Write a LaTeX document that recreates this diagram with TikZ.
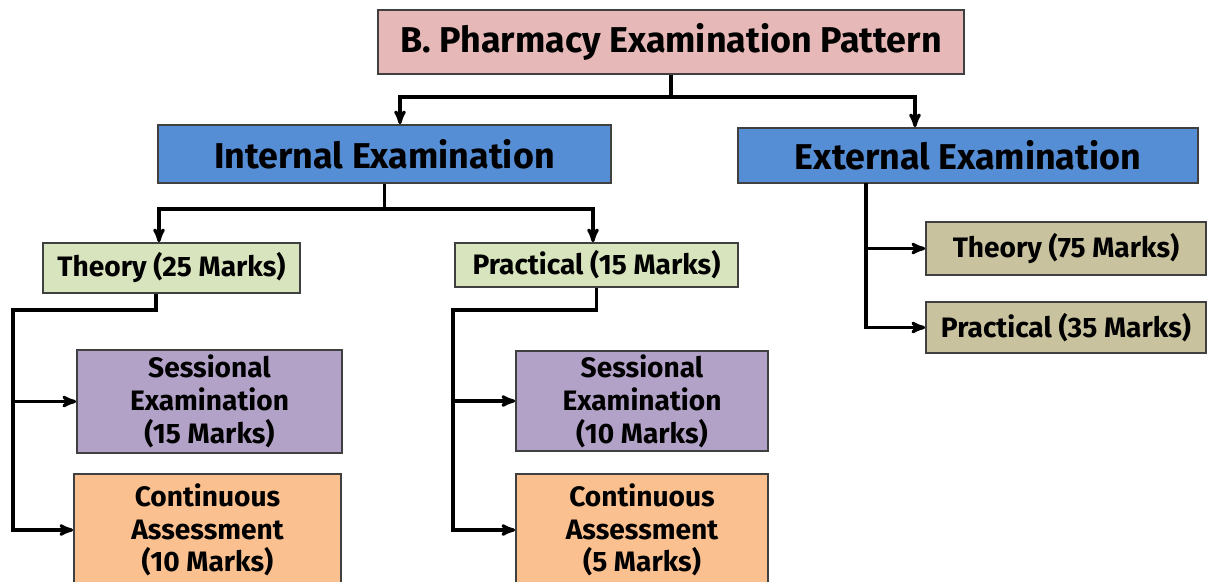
\documentclass[tikz,border=0pt]{standalone}
\usepackage{fontspec}
\setmainfont{Fira Sans}
\usepackage{tikz}
\usetikzlibrary{arrows}

\definecolor{titlepink}{HTML}{E6B9B8}
\definecolor{examblue}{HTML}{558ED5}
\definecolor{partgreen}{HTML}{D7E4BD}
\definecolor{exttan}{HTML}{C9C29E}
\definecolor{sesspurple}{HTML}{B3A2C7}
\definecolor{contorange}{HTML}{FAC090}

\begin{document}
\begin{tikzpicture}[x=0.025cm,y=-0.025cm,->,>=stealth',line width=2.2pt,
exam box/.style={rectangle,draw=black!75,line width=1.2pt,inner sep=0pt,align=center,font=\bfseries},
title box/.style={exam box,fill=titlepink,font=\bfseries\fontsize{25.5}{30}\selectfont},
main box/.style={exam box,fill=examblue,font=\bfseries\fontsize{25.5}{30}\selectfont},
part box/.style={exam box,fill=partgreen,font=\bfseries\fontsize{20}{24}\selectfont},
ext box/.style={exam box,fill=exttan,minimum width=7cm,font=\bfseries\fontsize{20}{24}\selectfont},
sess box/.style={exam box,fill=sesspurple,font=\bfseries\fontsize{20}{23.5}\selectfont},
cont box/.style={exam box,fill=contorange,font=\bfseries\fontsize{20}{23}\selectfont}]

\useasboundingbox (0,0) rectangle (1213,581);

\node[title box,minimum width=14.65cm,minimum height=1.6cm] (title) at (671,42) {B. Pharmacy Examination Pattern};

\node[main box,minimum width=11.325cm,minimum height=1.45cm] (intern) at (384.5,154) {Internal Examination};
\node[main box,minimum width=11.5cm,minimum height=1.375cm] (extern) at (968,155.5) {External Examination};

\node[part box,minimum width=6.425cm,minimum height=1.25cm] (theoryI) at (171.5,268) {Theory (25 Marks)};
\node[part box,minimum width=7.075cm,minimum height=1.1cm] (practI) at (596.5,265) {Practical (15 Marks)};

\node[ext box,minimum height=1.325cm] (theoryE) at (1066,248.5) {Theory (75 Marks)};
\node[ext box,minimum height=1.275cm] (practE) at (1066,327.5) {Practical (35 Marks)};

\node[sess box,minimum width=6.625cm,minimum height=2.575cm] (sessT) at (209.5,401.5) {Sessional\\Examination\\(15 Marks)};
\node[cont box,minimum width=6.675cm,minimum height=2.8cm] (contT) at (207.5,530) {Continuous\\Assessment\\(10 Marks)};
\node[sess box,minimum width=6.3cm,minimum height=2.5cm] (sessP) at (642,401) {Sessional\\Examination\\(10 Marks)};
\node[cont box,minimum width=6.3cm,minimum height=2.8cm] (contP) at (642,530) {Continuous\\Assessment\\(5 Marks)};

% branching points
\coordinate (tl) at (400,97);
\coordinate (tr) at (915,97);
\coordinate (il) at (159,209);
\coordinate (ir) at (593,209);
\coordinate (ex) at (866,183);
\coordinate (ts) at (156,310);
\coordinate (tv) at (13,310);
\coordinate (pv) at (453,310);

\draw (title.south) |- (tl) -- (tl |- intern.north);
\draw (title.south) |- (tr) -- (tr |- extern.north);

\draw (intern.south) |- (il) -- (il |- theoryI.north);
\draw (intern.south) |- (ir) -- (ir |- practI.north);

\draw (ex) |- (theoryE.west);
\draw (ex) |- (practE.west);

\draw (ts |- theoryI.south) -- (ts) -- (tv) |- (sessT.west);
\draw (tv) |- (contT.west);

\draw (practI.south) |- (pv) |- (sessP.west);
\draw (pv) |- (contP.west);

\end{tikzpicture}
\end{document}
